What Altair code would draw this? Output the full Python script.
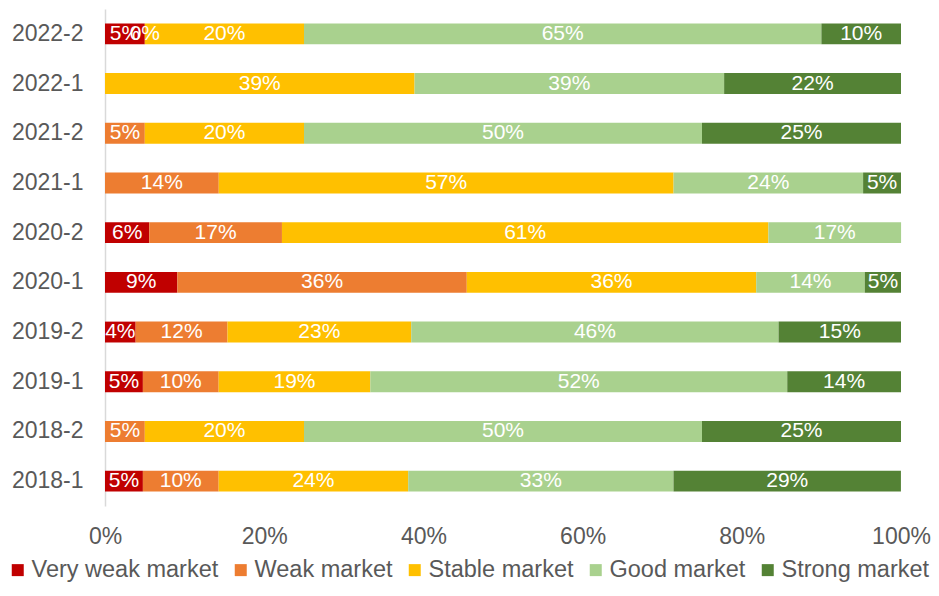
import altair as alt
import pandas as pd

periods = ["2022-2", "2022-1", "2021-2", "2021-1", "2020-2",
           "2020-1", "2019-2", "2019-1", "2018-2", "2018-1"]
series = ["Very weak market", "Weak market", "Stable market", "Good market", "Strong market"]
colors = ["#C00000", "#ED7D31", "#FFC000", "#A9D18E", "#548235"]

very_weak = [5, None, None, None, 5.56, 9.09, 3.85, 4.76, None, 4.76]
weak = [0, None, 5, 14.29, 16.67, 36.36, 11.54, 9.52, 5, 9.52]
stable = [20, 38.89, 20, 57.14, 61.11, 36.36, 23.08, 19.05, 20, 23.81]
good = [65, 38.89, 50, 23.81, 16.67, 13.64, 46.15, 52.38, 50, 33.33]
strong = [10, 22.22, 25, 4.76, None, 4.55, 15.38, 14.29, 25, 28.57]

all_series = [very_weak, weak, stable, good, strong]
rows = []
for si, (name, vals) in enumerate(zip(series, all_series)):
    for p, v in zip(periods, vals):
        if v is not None:
            rows.append({"period": p, "series": name, "idx": si, "value": v})
df = pd.DataFrame(rows)

FONT = "Liberation Sans"
GREY = "#595959"

base = alt.Chart(df).transform_stack(
    stack="value",
    groupby=["period"],
    sort=[alt.SortField("idx", order="ascending")],
    as_=["x0", "x1"],
).transform_calculate(
    mid="(datum.x0 + datum.x1) / 2",
    label="round(datum.value) + '%'",
)

y_enc = alt.Y(
    "period:N",
    sort=periods,
    scale=alt.Scale(paddingInner=0.58, paddingOuter=0.29),
    axis=alt.Axis(
        title=None, ticks=False, domain=True, domainColor="#D9D9D9", domainWidth=1.5,
        labelFontSize=23, labelColor=GREY, labelFont=FONT, labelPadding=22,
    ),
)

bars = base.mark_bar().encode(
    x=alt.X(
        "x0:Q",
        scale=alt.Scale(domain=[0, 100], nice=False),
        axis=alt.Axis(
            title=None, values=[0, 20, 40, 60, 80, 100], labelExpr="datum.value + '%'",
            grid=False, domain=False, ticks=False, labelFlush=False,
            labelFontSize=23, labelColor=GREY, labelFont=FONT, labelPadding=19,
        ),
    ),
    x2="x1:Q",
    y=y_enc,
    color=alt.Color(
        "series:N",
        scale=alt.Scale(domain=series, range=colors),
        legend=alt.Legend(
            title=None, orient="none", direction="horizontal", legendX=-99, legendY=549,
            padding=0, symbolOffset=0,
            symbolType="square", symbolSize=144, symbolStrokeWidth=0,
            labelFontSize=23.5, labelColor=GREY, labelFont=FONT, labelOffset=2,
            columnPadding=10, labelLimit=400,
        ),
    ),
)

texts = base.mark_text(color="white", fontSize=21, font=FONT).encode(
    x=alt.X("mid:Q"),
    y=alt.Y("period:N", sort=periods),
    text="label:N",
)

chart = alt.layer(bars, texts).properties(
    width=796,
    height=497,
    autosize=alt.AutoSizeParams(type="none"),
    padding={"left": 97, "top": 1, "right": 30, "bottom": 76},
).configure_view(stroke=None)

chart.save("out.html", embed_options={"renderer": "svg", "actions": False})
